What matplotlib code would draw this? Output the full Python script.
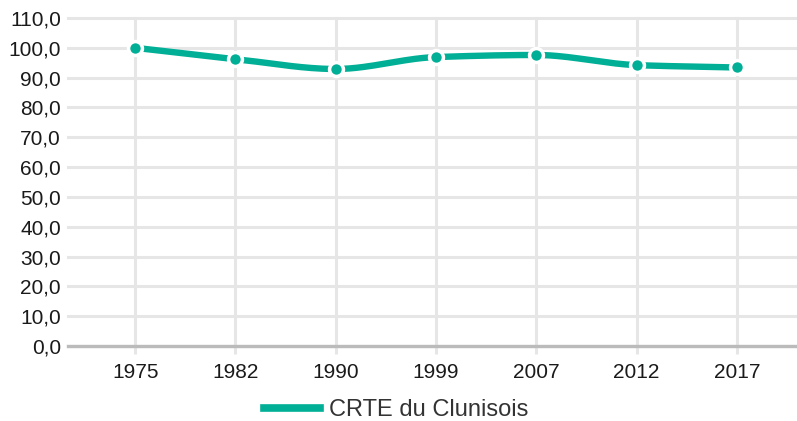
import matplotlib
matplotlib.use("Agg")
import matplotlib.pyplot as plt
from matplotlib.lines import Line2D
from matplotlib.ticker import FuncFormatter
import numpy as np

# indice d'évolution, base 100 en 1975
annees = ["1975", "1982", "1990", "1999", "2007", "2012", "2017"]
indice = [100.0, 96.2, 92.9, 96.9, 97.6, 94.2, 93.4]
nom_serie = "CRTE du Clunisois"

couleur = "#00af96"
gris_grille = "#e6e6e6"

plt.rcParams["font.family"] = ["Liberation Sans", "DejaVu Sans"]


def monotone(x, y, n=30):
    # interpolation cubique monotone (Fritsch-Carlson) pour lisser la courbe
    x = np.asarray(x, float)
    y = np.asarray(y, float)
    h = np.diff(x)
    d = np.diff(y) / h
    m = np.zeros_like(y)
    m[0], m[-1] = d[0], d[-1]
    for i in range(1, len(y) - 1):
        if d[i - 1] * d[i] <= 0:
            m[i] = 0
        else:
            w1 = 2 * h[i] + h[i - 1]
            w2 = h[i] + 2 * h[i - 1]
            m[i] = (w1 + w2) / (w1 / d[i - 1] + w2 / d[i])
    xs, ys = [], []
    for i in range(len(x) - 1):
        t = np.linspace(0, 1, n)
        h00 = 2 * t**3 - 3 * t**2 + 1
        h10 = t**3 - 2 * t**2 + t
        h01 = -2 * t**3 + 3 * t**2
        h11 = t**3 - t**2
        xs.append(x[i] + t * h[i])
        ys.append(h00 * y[i] + h10 * h[i] * m[i] + h01 * y[i + 1] + h11 * h[i] * m[i + 1])
    return np.concatenate(xs), np.concatenate(ys)


fig = plt.figure(figsize=(7.97, 4.21), dpi=100)
ax = fig.add_axes([68 / 797, 75 / 421, 729 / 797, 328 / 421])

pos = np.arange(len(annees))
ax.set_xlim(-0.67, 6.6)
ax.set_ylim(0, 110)
ax.set_yticks(np.arange(0, 111, 10))
ax.yaxis.set_major_formatter(FuncFormatter(lambda v, p: f"{v:.1f}".replace(".", ",")))
ax.set_xticks(pos)
ax.set_xticklabels(annees)

ax.grid(True, color=gris_grille, linewidth=2.2)
ax.set_axisbelow(True)
for line in ax.get_xgridlines() + ax.get_ygridlines():
    line.set_clip_on(False)
for s in ["top", "right", "left"]:
    ax.spines[s].set_visible(False)
ax.spines["bottom"].set_color("#bbbbbb")
ax.spines["bottom"].set_linewidth(2.4)
ax.spines["bottom"].set_zorder(3)

ax.tick_params(axis="x", length=6, width=2.2, color=gris_grille, pad=6,
               labelsize=15, labelcolor="#1a1a1a")
ax.tick_params(axis="y", length=0, pad=5, labelsize=15, labelcolor="#1a1a1a")

xs, ys = monotone(pos, indice)
ax.plot(xs, ys, color=couleur, linewidth=4.6, solid_capstyle="round", zorder=4)
ax.plot(pos, indice, "o", color=couleur, markersize=10, 
        markeredgecolor="white", markeredgewidth=2.5, zorder=5, clip_on=False)

poignee = Line2D([], [], color=couleur, linewidth=5.5)
fig.legend([poignee], [nom_serie], loc="center", bbox_to_anchor=(0.497, 11 / 421),
           frameon=False, fontsize=17, handlelength=2.37, handletextpad=0.38,
           labelcolor="#333333")

fig.savefig("out.png", dpi=100)
